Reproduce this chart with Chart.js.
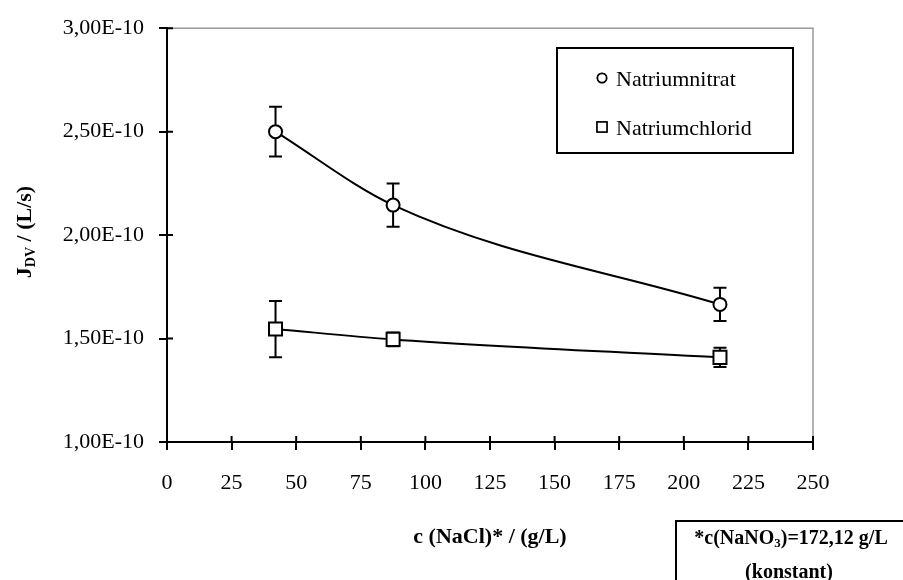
<!DOCTYPE html>
<html>
<head>
<meta charset="utf-8">
<script src="https://cdn.jsdelivr.net/npm/chart.js@4.4.1/dist/chart.umd.min.js"></script>
<style>
  html, body { margin: 0; padding: 0; background: #ffffff; }
  #wrap { width: 903px; height: 580px; position: relative; }
</style>
</head>
<body>
<div id="wrap"><canvas id="chart" width="903" height="580"></canvas></div>
<script>
// Volume flux J_DV over NaCl concentration, NaNO3 held constant
const concentration = [42, 87.5, 214];
const nitratFlux = [2.50e-10, 2.145e-10, 1.665e-10];
const nitratError = [0.12e-10, 0.105e-10, 0.08e-10];
const chloridFlux = [1.546e-10, 1.496e-10, 1.409e-10];
const chloridError = [0.136e-10, 0.033e-10, 0.047e-10];
const xTickValues = [0, 25, 50, 75, 100, 125, 150, 175, 200, 225, 250];
const yTickValues = [1.0e-10, 1.5e-10, 2.0e-10, 2.5e-10, 3.0e-10];
const seriesLabels = ['Natriumnitrat', 'Natriumchlorid'];
const xAxisTitle = 'c (NaCl)* / (g/L)';
const noteLines = ['*c(NaNO', '3', ')=172,12 g/L', '(konstant)'];

const SERIF = "'Liberation Serif', 'Times New Roman', serif";
const toPoints = ys => concentration.map((x, i) => ({ x: x, y: ys[i] }));
const formatY = v => (v * 1e10).toFixed(2).replace('.', ',') + 'E-10';

// grey frame of the plot area (top and right edges stay visible)
const frame = {
  id: 'frame',
  beforeDraw(chart) {
    const { ctx, chartArea: a } = chart;
    ctx.save();
    ctx.strokeStyle = '#9a9a9a';
    ctx.lineWidth = 1.5;
    ctx.strokeRect(a.left, a.top, a.right - a.left, a.bottom - a.top);
    ctx.restore();
  }
};

// tick marks crossing into the plot area
const innerTicks = {
  id: 'innerTicks',
  afterDatasetsDraw(chart) {
    const { ctx, scales: { x, y } } = chart;
    ctx.save();
    ctx.strokeStyle = '#000';
    ctx.lineWidth = 2;
    ctx.beginPath();
    xTickValues.forEach(v => {
      const px = x.getPixelForValue(v);
      ctx.moveTo(px, y.bottom);
      ctx.lineTo(px, y.bottom - 6);
    });
    yTickValues.forEach(v => {
      const py = y.getPixelForValue(v);
      ctx.moveTo(x.left, py);
      ctx.lineTo(x.left + 6, py);
    });
    ctx.stroke();
    ctx.restore();
  }
};

// vertical error bars with caps
const errorBars = {
  id: 'errorBars',
  beforeDatasetsDraw(chart) {
    const { ctx, scales: { y } } = chart;
    ctx.save();
    ctx.strokeStyle = '#000';
    ctx.lineWidth = 2;
    chart.data.datasets.forEach((ds, i) => {
      const meta = chart.getDatasetMeta(i);
      meta.data.forEach((pt, j) => {
        const v = ds.data[j].y, e = ds.errors[j];
        const top = y.getPixelForValue(v + e);
        const bot = y.getPixelForValue(v - e);
        ctx.beginPath();
        ctx.moveTo(pt.x, top); ctx.lineTo(pt.x, bot);
        ctx.moveTo(pt.x - 6.5, top); ctx.lineTo(pt.x + 6.5, top);
        ctx.moveTo(pt.x - 6.5, bot); ctx.lineTo(pt.x + 6.5, bot);
        ctx.stroke();
      });
    });
    ctx.restore();
  }
};

// boxed legend, rotated y title with subscript, and boxed footnote
const annotations = {
  id: 'annotations',
  afterDraw(chart) {
    const ctx = chart.ctx;
    ctx.save();

    // legend
    ctx.strokeStyle = '#000';
    ctx.lineWidth = 2;
    ctx.strokeRect(557, 48, 236, 105);
    const rows = [78, 127];
    chart.data.datasets.forEach((ds, i) => {
      Chart.helpers.drawPoint(ctx, {
        pointStyle: ds.pointStyle,
        radius: ds.pointStyle === 'rect' ? 7 : 4.5,
        borderWidth: 1.5
      }, 602, rows[i]);
      ctx.strokeStyle = '#000';
      ctx.lineWidth = 1.5;
      ctx.fillStyle = '#fff';
      ctx.fill();
      ctx.stroke();
      ctx.fillStyle = '#000';
      ctx.font = '22px ' + SERIF;
      ctx.textAlign = 'left';
      ctx.textBaseline = 'middle';
      ctx.fillText(ds.label, 616, rows[i] + 2);
    });

    // y axis title: J with subscript DV
    ctx.translate(25, 232);
    ctx.rotate(-Math.PI / 2);
    const parts = [
      { t: 'J', f: 'bold 22px ' + SERIF, dy: 0 },
      { t: 'DV', f: 'bold 14px ' + SERIF, dy: 6 },
      { t: ' / (L/s)', f: 'bold 22px ' + SERIF, dy: 0 }
    ];
    let total = 0;
    parts.forEach(p => { ctx.font = p.f; p.w = ctx.measureText(p.t).width; total += p.w; });
    let cx = -total / 2;
    ctx.fillStyle = '#000';
    ctx.textAlign = 'left';
    ctx.textBaseline = 'middle';
    parts.forEach(p => { ctx.font = p.f; ctx.fillText(p.t, cx, p.dy); cx += p.w; });
    ctx.setTransform(1, 0, 0, 1, 0, 0);

    // footnote box
    ctx.strokeStyle = '#000';
    ctx.lineWidth = 2;
    ctx.strokeRect(676, 521, 300, 100);
    const big = 'bold 20px ' + SERIF, small = 'bold 13px ' + SERIF;
    ctx.font = big;
    const w1 = ctx.measureText(noteLines[0]).width;
    const w3 = ctx.measureText(noteLines[2]).width;
    ctx.font = small;
    const w2 = ctx.measureText(noteLines[1]).width;
    let nx = 791 - (w1 + w2 + w3) / 2;
    ctx.textBaseline = 'middle';
    ctx.font = big; ctx.fillText(noteLines[0], nx, 539); nx += w1;
    ctx.font = small; ctx.fillText(noteLines[1], nx, 544); nx += w2;
    ctx.font = big; ctx.fillText(noteLines[2], nx, 539);
    ctx.textAlign = 'center';
    ctx.fillText(noteLines[3], 789, 573);
    ctx.restore();
  }
};

new Chart(document.getElementById('chart'), {
  type: 'scatter',
  data: {
    datasets: [
      {
        label: seriesLabels[0],
        data: toPoints(nitratFlux),
        errors: nitratError,
        showLine: true,
        cubicInterpolationMode: 'monotone',
        borderColor: '#000',
        borderWidth: 2,
        pointStyle: 'circle',
        pointRadius: 6.5,
        pointBorderWidth: 2,
        pointBorderColor: '#000',
        pointBackgroundColor: '#fff'
      },
      {
        label: seriesLabels[1],
        data: toPoints(chloridFlux),
        errors: chloridError,
        showLine: true,
        cubicInterpolationMode: 'monotone',
        borderColor: '#000',
        borderWidth: 2,
        pointStyle: 'rect',
        pointRadius: 9.2,
        pointBorderWidth: 2,
        pointBorderColor: '#000',
        pointBackgroundColor: '#fff'
      }
    ]
  },
  options: {
    responsive: false,
    animation: false,
    layout: { padding: { left: 0, top: 21, right: 90, bottom: 0 } },
    plugins: { legend: { display: false }, tooltip: { enabled: false } },
    scales: {
      x: {
        type: 'linear',
        min: 0,
        max: 250,
        afterBuildTicks: s => { s.ticks = xTickValues.map(v => ({ value: v })); },
        afterFit: s => { s.height = 138; },
        grid: { drawOnChartArea: false, drawTicks: true, tickLength: 8, color: '#000', lineWidth: 2 },
        border: { display: true, color: '#000', width: 2 },
        ticks: { color: '#000', font: { family: SERIF, size: 22 }, padding: 20, maxRotation: 0 },
        title: {
          display: true,
          text: xAxisTitle,
          color: '#000',
          font: { family: SERIF, size: 22, weight: 'bold' },
          padding: { top: 0, bottom: 29 }
        }
      },
      y: {
        type: 'linear',
        min: 1.0e-10,
        max: 3.0e-10,
        afterBuildTicks: s => { s.ticks = yTickValues.map(v => ({ value: v })); },
        afterFit: s => { s.width = 167; },
        grid: { drawOnChartArea: false, drawTicks: true, tickLength: 8, color: '#000', lineWidth: 2 },
        border: { display: true, color: '#000', width: 2 },
        ticks: { color: '#000', font: { family: SERIF, size: 22 }, padding: 15, callback: formatY }
      }
    }
  },
  plugins: [frame, errorBars, innerTicks, annotations]
});
</script>
</body>
</html>
